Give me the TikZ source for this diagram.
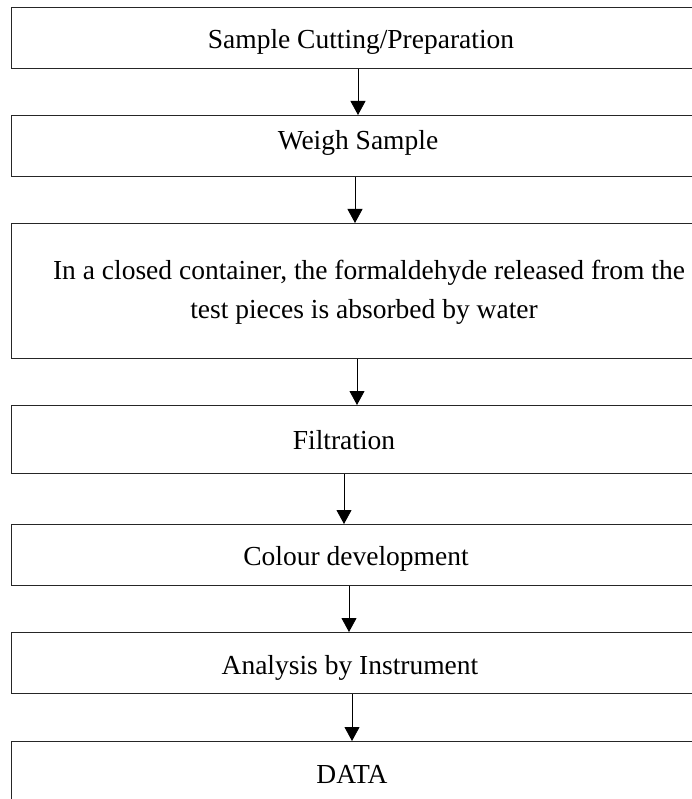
\documentclass[tikz,border=0pt]{standalone}
\usepackage{fontspec}
\setmainfont{Liberation Serif}
\usetikzlibrary{arrows.meta}
\begin{document}
\begin{tikzpicture}[x=1pt,y=-1pt,
  box/.style={draw=black!85,line width=1.2pt,rectangle,inner sep=0pt,anchor=north west},
  lbl/.style={anchor=base,inner sep=0pt,font=\fontsize{27.5}{39}\selectfont,align=center},
  arr/.style={draw=black,line width=0.8pt,-{Triangle[width=15pt,length=14pt]}}]
\useasboundingbox (0,0) rectangle (692,799);
\begin{scope}
\clip (0,0) rectangle (692,799);
\node[box,minimum width=704pt,minimum height=61pt] (b1) at (11,7) {};
\node[box,minimum width=704pt,minimum height=61pt] (b2) at (11,115) {};
\node[box,minimum width=704pt,minimum height=135pt] (b3) at (11,223) {};
\node[box,minimum width=704pt,minimum height=68pt] (b4) at (11,405) {};
\node[box,minimum width=704pt,minimum height=61pt] (b5) at (11,524) {};
\node[box,minimum width=704pt,minimum height=61pt] (b6) at (11,632) {};
\node[box,minimum width=704pt,minimum height=90pt] (b7) at (11,741) {};
\end{scope}
\node[lbl] (t1) at (361,49) {Sample Cutting/Preparation};
\node[lbl] (t2) at (358,150) {Weigh Sample};
\node[lbl] (t3a) at (369,279) {In a closed container, the formaldehyde released from the};
\node[lbl] (t3b) at (364,318) {test pieces is absorbed by water};
\node[lbl] (t4) at (344,449) {Filtration};
\node[lbl] (t5) at (356,565) {Colour development};
\node[lbl] (t6) at (350,674) {Analysis by Instrument};
\node[lbl] (t7) at (352,783) {DATA};
\coordinate (x1) at (358,0);
\coordinate (x2) at (355,0);
\coordinate (x3) at (357,0);
\coordinate (x4) at (344,0);
\coordinate (x5) at (349,0);
\coordinate (x6) at (352,0);
\draw[arr] (x1 |- b1.south) -- (x1 |- b2.north);
\draw[arr] (x2 |- b2.south) -- (x2 |- b3.north);
\draw[arr] (x3 |- b3.south) -- (x3 |- b4.north);
\draw[arr] (x4 |- b4.south) -- (x4 |- b5.north);
\draw[arr] (x5 |- b5.south) -- (x5 |- b6.north);
\draw[arr] (x6 |- b6.south) -- (x6 |- b7.north);
\end{tikzpicture}
\end{document}
